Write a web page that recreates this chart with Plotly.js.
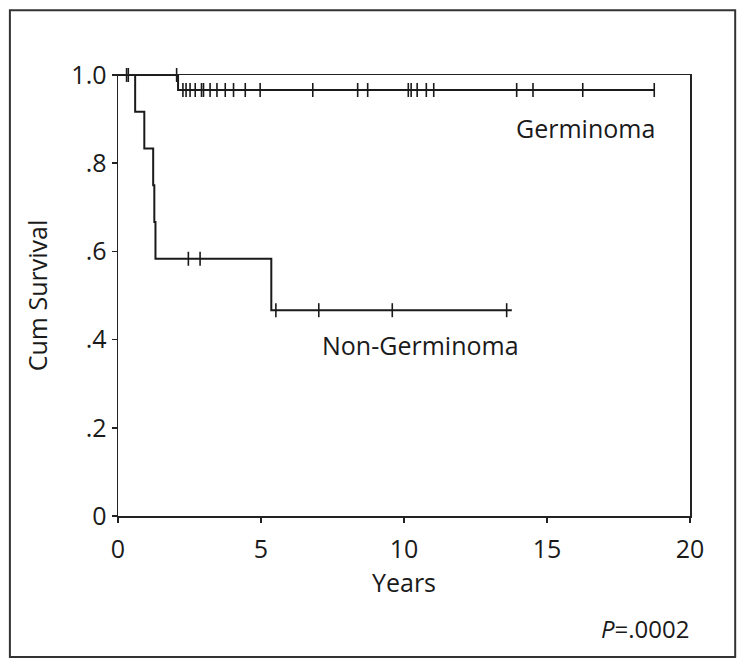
<!DOCTYPE html>
<html>
<head>
<meta charset="utf-8">
<script src="https://cdn.plot.ly/plotly-3.0.1.min.js"></script>
<style>
  html, body { margin: 0; padding: 0; background: #fff; }
  #chart { width: 744px; height: 666px; }
</style>
</head>
<body>
<div id="chart"></div>
<script>
// Kaplan-Meier steps (years, cumulative survival)
const germStepTimes = [0, 2.1];
const germStepSurv = [1.0, 0.966];
const germEndTime = 18.75;
const germCensored = [0.3, 0.36, 2.05, 2.27, 2.38, 2.52, 2.7, 2.92, 2.99, 3.22, 3.46,
  3.75, 4.04, 4.45, 4.97, 6.81, 8.38, 8.73, 10.15, 10.25, 10.46, 10.78, 11.04,
  13.94, 14.51, 16.25, 18.75];

const nonGermStepTimes = [0, 0.6, 0.92, 1.23, 1.27, 1.31, 5.36];
const nonGermStepSurv = [1.0, 0.9167, 0.8333, 0.75, 0.6667, 0.5833, 0.4667];
const nonGermEndTime = 13.77;
const nonGermCensored = [2.46, 2.87, 5.52, 7.02, 9.59, 13.59];

const yTickVals = [0, 0.2, 0.4, 0.6, 0.8, 1.0];
const yTickText = ["0", ".2", ".4", ".6", ".8", "1.0"];
const xTickVals = [0, 5, 10, 15, 20];

function survAt(times, surv, t) {
  let s = surv[0];
  for (let i = 0; i < times.length; i++) {
    if (times[i] <= t) s = surv[i];
  }
  return s;
}

function stepTrace(times, surv, endTime) {
  return {
    type: "scatter",
    mode: "lines",
    x: times.concat([endTime]),
    y: surv.concat([surv[surv.length - 1]]),
    line: { shape: "hv", color: "#1a1a1a", width: 2 },
    cliponaxis: false,
    hoverinfo: "skip",
  };
}

function censorTrace(times, surv, censored) {
  return {
    type: "scatter",
    mode: "markers",
    x: censored,
    y: censored.map((t) => survAt(times, surv, t)),
    marker: {
      symbol: "line-ns",
      size: 10,
      color: "#1a1a1a",
      line: { color: "#1a1a1a", width: 1.6 },
    },
    cliponaxis: false,
    hoverinfo: "skip",
  };
}

const traces = [
  stepTrace(germStepTimes, germStepSurv, germEndTime),
  censorTrace(germStepTimes, germStepSurv, germCensored),
  stepTrace(nonGermStepTimes, nonGermStepSurv, nonGermEndTime),
  censorTrace(nonGermStepTimes, nonGermStepSurv, nonGermCensored),
];

const font = { family: "'Open Sans', 'DejaVu Sans', sans-serif", color: "#1a1a1a" };

const layout = {
  width: 744,
  height: 666,
  margin: { l: 118, r: 54, t: 75, b: 150 },
  paper_bgcolor: "#fff",
  plot_bgcolor: "#fff",
  showlegend: false,
  font: { ...font, size: 25 },
  xaxis: {
    range: [0, 20],
    tickvals: xTickVals,
    ticks: "outside",
    ticklen: 5,
    tickwidth: 1.5,
    tickcolor: "#222",
    ticklabelstandoff: 5,
    showline: true,
    mirror: true,
    linecolor: "#222",
    linewidth: 1.5,
    showgrid: false,
    zeroline: false,
    tickfont: { ...font, size: 25 },
    title: { text: "Years", font: { ...font, size: 25 }, standoff: 6 },
  },
  yaxis: {
    range: [0, 1],
    tickvals: yTickVals,
    ticktext: yTickText,
    ticks: "outside",
    ticklen: 5,
    tickwidth: 1.5,
    tickcolor: "#222",
    showline: true,
    mirror: true,
    linecolor: "#222",
    linewidth: 1.5,
    showgrid: false,
    zeroline: false,
    tickfont: { ...font, size: 25 },
    title: { text: "Cum Survival", font: { ...font, size: 25 }, standoff: 16 },
  },
  annotations: [
    {
      x: 16.33, y: 0.88, xref: "x", yref: "y",
      text: "Germinoma", showarrow: false,
      font: { ...font, size: 25 }, xanchor: "center", yanchor: "middle",
    },
    {
      x: 10.56, y: 0.388, xref: "x", yref: "y",
      text: "Non-Germinoma", showarrow: false,
      font: { ...font, size: 25 }, xanchor: "center", yanchor: "middle",
    },
    {
      x: 1.003, y: -0.254, xref: "paper", yref: "paper",
      text: "<i>P</i>=.0002", showarrow: false,
      font: { ...font, size: 24 }, xanchor: "right", yanchor: "middle",
    },
  ],
  shapes: [
    {
      type: "rect", xref: "paper", yref: "paper",
      x0: -0.189, x1: 1.079, y0: -0.320, y1: 1.147,
      line: { color: "#333", width: 2 },
      fillcolor: "rgba(0,0,0,0)",
      layer: "below",
    },
  ],
};

Plotly.newPlot("chart", traces, layout, { displayModeBar: false, staticPlot: true });
</script>
</body>
</html>
